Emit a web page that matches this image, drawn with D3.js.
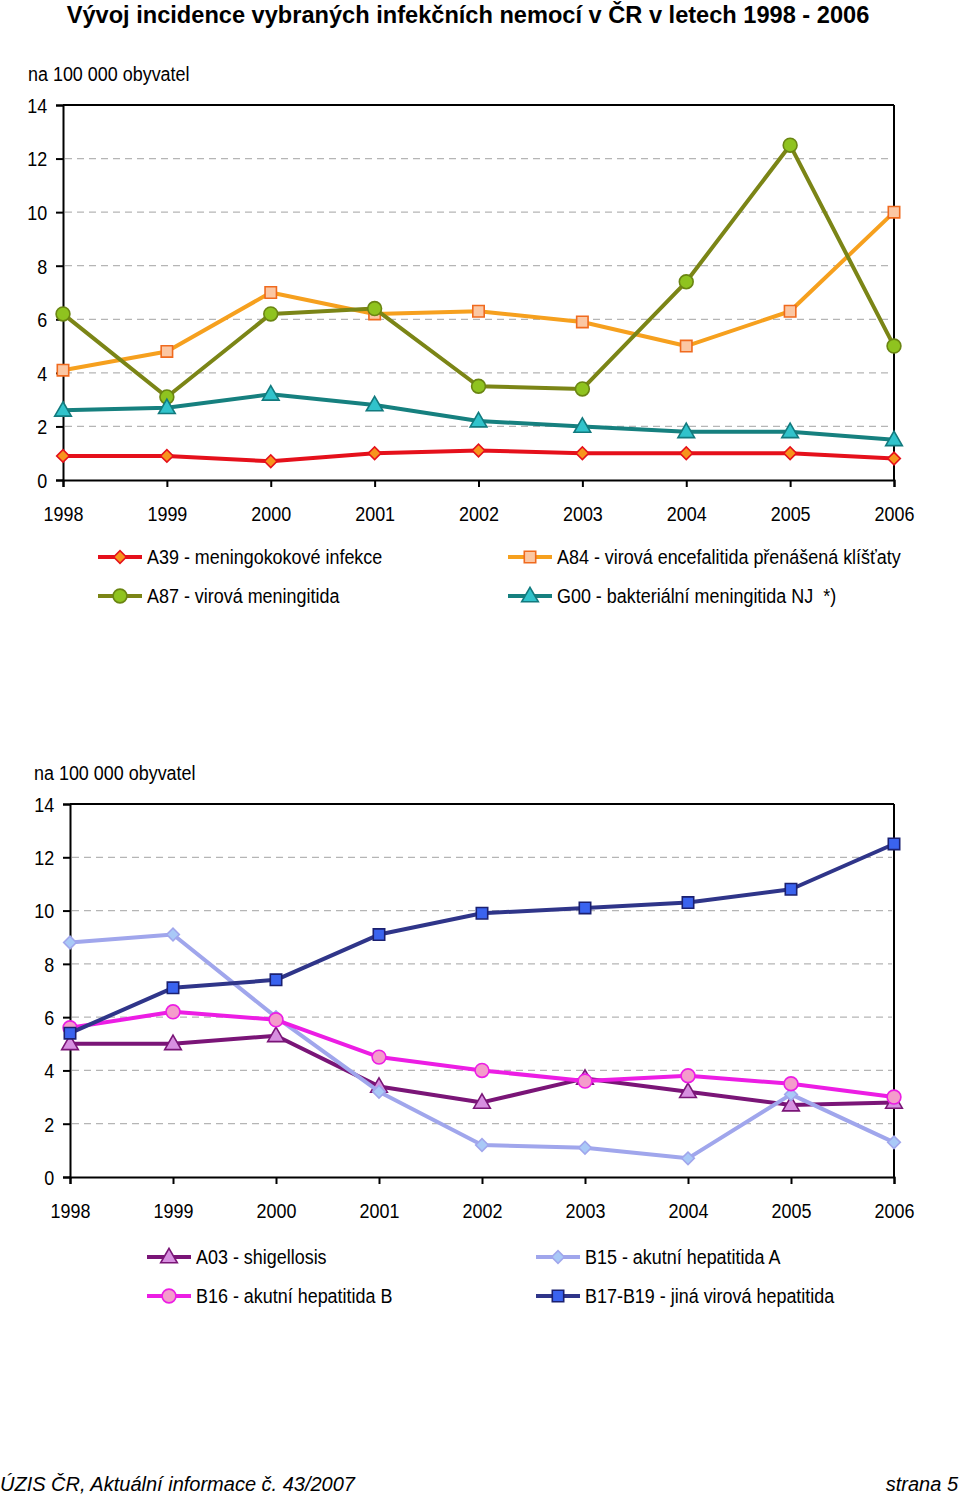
<!DOCTYPE html>
<html><head><meta charset="utf-8">
<script src="https://cdn.jsdelivr.net/npm/d3@7"></script>
<style>
body{margin:0;background:#fff;}
svg{display:block;}
text{font-family:"Liberation Sans",Arial,sans-serif;fill:#000;white-space:pre;}
.title{font-weight:bold;}
</style></head>
<body>
<script>
const years = [1998,1999,2000,2001,2002,2003,2004,2005,2006];
const yTicks = [0,2,4,6,8,10,12,14];

// Chart 1
const a39 = [0.9,0.9,0.7,1.0,1.1,1.0,1.0,1.0,0.8];
const a84 = [4.1,4.8,7.0,6.2,6.3,5.9,5.0,6.3,10.0];
const a87 = [6.2,3.1,6.2,6.4,3.5,3.4,7.4,12.5,5.0];
const g00 = [2.6,2.7,3.2,2.8,2.2,2.0,1.8,1.8,1.5];
// Chart 2
const a03 = [5.0,5.0,5.3,3.4,2.8,3.7,3.2,2.7,2.8];
const b15 = [8.8,9.1,6.0,3.2,1.2,1.1,0.7,3.1,1.3];
const b16 = [5.6,6.2,5.9,4.5,4.0,3.6,3.8,3.5,3.0];
const b17 = [5.4,7.1,7.4,9.1,9.9,10.1,10.3,10.8,12.5];

const series1 = [
  {name:"A39 - meningokokové infekce", values:a39, line:"#e5101b", fill:"#f7941d", stroke:"#e5101b", shape:"diamond"},
  {name:"A84 - virová encefalitida přenášená klíšťaty", values:a84, line:"#f6a01e", fill:"#fbc7a3", stroke:"#f06a1e", shape:"square"},
  {name:"A87 - virová meningitida", values:a87, line:"#7b8516", fill:"#8fc31f", stroke:"#6a8512", shape:"circle"},
  {name:"G00 - bakteriální meningitida NJ  *)", values:g00, line:"#16807f", fill:"#31c3cb", stroke:"#127a7e", shape:"triangle"}
];
const series2 = [
  {name:"A03 - shigellosis", values:a03, line:"#7a1577", fill:"#d78fe0", stroke:"#7a1577", shape:"triangle"},
  {name:"B15 - akutní hepatitida A", values:b15, line:"#a0a6ec", fill:"#a9c9f7", stroke:"#a0a6ec", shape:"diamond"},
  {name:"B16 - akutní hepatitida B", values:b16, line:"#ec1de4", fill:"#f49ccb", stroke:"#ec1de4", shape:"circle"},
  {name:"B17-B19 - jiná virová hepatitida", values:b17, line:"#2f3589", fill:"#3a63ef", stroke:"#1b2070", shape:"square"}
];

const W=960,H=1497;
const SX=0.855, FS=21;
const svg = d3.select("body").append("svg").attr("width",W).attr("height",H);

// narrow text helper: place text at (x,y) with horizontal compression
function ntext(parent,x,y,str){
  return parent.append("text").attr("x",x/SX).attr("y",y).attr("font-size",FS)
    .attr("transform",`scale(${SX},1)`).text(str);
}

svg.append("text").attr("class","title").attr("x",468).attr("y",23)
  .attr("text-anchor","middle").attr("font-size",23.6).text("Vývoj incidence vybraných infekčních nemocí v ČR v letech 1998 - 2006");

function markerPath(shape){
  if(shape==="square") return d3.symbol(d3.symbolSquare,130)();
  if(shape==="circle") return d3.symbol(d3.symbolCircle,150)();
  if(shape==="triangle") return d3.symbol(d3.symbolTriangle,120)();
  if(shape==="diamond") return d3.symbol(d3.symbolSquare,80)();
}
function drawMarker(g,shape,x,y,s){
  const p = g.append("path").attr("d",markerPath(shape))
    .attr("fill",s.fill).attr("stroke",s.stroke).attr("stroke-width",1.6);
  if(shape==="diamond") p.attr("transform",`translate(${x},${y}) rotate(45)`);
  else if(shape==="triangle") p.attr("transform",`translate(${x},${y+1})`);
  else p.attr("transform",`translate(${x},${y})`);
}

function chart(cfg){
  const x = d3.scalePoint().domain(years).range([cfg.left,cfg.right]);
  const y = d3.scaleLinear().domain([0,14]).range([cfg.bottom,cfg.top]);
  const g = svg.append("g");

  ntext(g,cfg.unitX,cfg.top-24,"na 100 000 obyvatel");

  // grid
  g.selectAll("line.grid").data(yTicks.filter(d=>d>0&&d<14)).enter().append("line")
    .attr("x1",cfg.left+2).attr("x2",cfg.right-2).attr("y1",d=>y(d)).attr("y2",d=>y(d))
    .attr("stroke","#b5b5b5").attr("stroke-width",1.2).attr("stroke-dasharray","7,5");
  // frame top & right
  g.append("line").attr("x1",cfg.left).attr("x2",cfg.right).attr("y1",cfg.top).attr("y2",cfg.top).attr("stroke","#000").attr("stroke-width",2);
  g.append("line").attr("x1",cfg.right).attr("x2",cfg.right).attr("y1",cfg.top).attr("y2",cfg.bottom).attr("stroke","#000").attr("stroke-width",2);

  const yAxis = g.append("g").attr("transform",`translate(${cfg.left},0)`)
    .call(d3.axisLeft(y).tickValues(yTicks).tickSize(7).tickPadding(11.5).tickFormat(d3.format("d")));
  yAxis.select(".domain").attr("stroke","#000").attr("stroke-width",2);
  yAxis.selectAll(".tick line").attr("stroke","#000").attr("stroke-width",2);
  yAxis.selectAll("text").attr("font-size",FS).attr("font-family",null).attr("dy","0.35em")
    .attr("transform",`scale(${SX},1)`);

  const xAxis = g.append("g").attr("transform",`translate(0,${cfg.bottom})`)
    .call(d3.axisBottom(x).tickSize(7).tickPadding(19).tickFormat(d3.format("d")));
  xAxis.select(".domain").attr("stroke","#000").attr("stroke-width",2);
  xAxis.selectAll(".tick line").attr("stroke","#000").attr("stroke-width",2);
  xAxis.selectAll("text").attr("font-size",FS).attr("font-family",null)
    .attr("transform",`scale(${SX},1)`);
  g.selectAll(".tick text").attr("fill","#000");

  const line = d3.line().x((d,i)=>x(years[i])).y(d=>y(d));
  cfg.series.forEach(s=>{
    g.append("path").attr("d",line(s.values)).attr("fill","none")
      .attr("stroke",s.line).attr("stroke-width",4).attr("stroke-linejoin","round");
    s.values.forEach((v,i)=>drawMarker(g,s.shape,x(years[i]),y(v),s));
  });

  // legend
  cfg.series.forEach((s,i)=>{
    const col = i%2, row = Math.floor(i/2);
    const lx = cfg.legX[col], ly = cfg.legY[row];
    g.append("line").attr("x1",lx).attr("x2",lx+44).attr("y1",ly).attr("y2",ly)
      .attr("stroke",s.line).attr("stroke-width",4);
    drawMarker(g,s.shape,lx+22,ly,s);
    ntext(g,lx+49,ly,s.name).attr("dy","0.35em");
  });
}

chart({left:63,right:894,top:105,bottom:480,unitX:28,series:series1,legX:[98,508],legY:[557,596]});
chart({left:70,right:894,top:804,bottom:1177,unitX:34,series:series2,legX:[147,536],legY:[1257,1296]});

svg.append("text").attr("x",0).attr("y",1491).attr("font-size",20).attr("font-style","italic")
  .text("ÚZIS ČR, Aktuální informace č. 43/2007");
svg.append("text").attr("x",958).attr("y",1491).attr("font-size",20).attr("font-style","italic")
  .attr("text-anchor","end").text("strana 5");
</script>
</body></html>
